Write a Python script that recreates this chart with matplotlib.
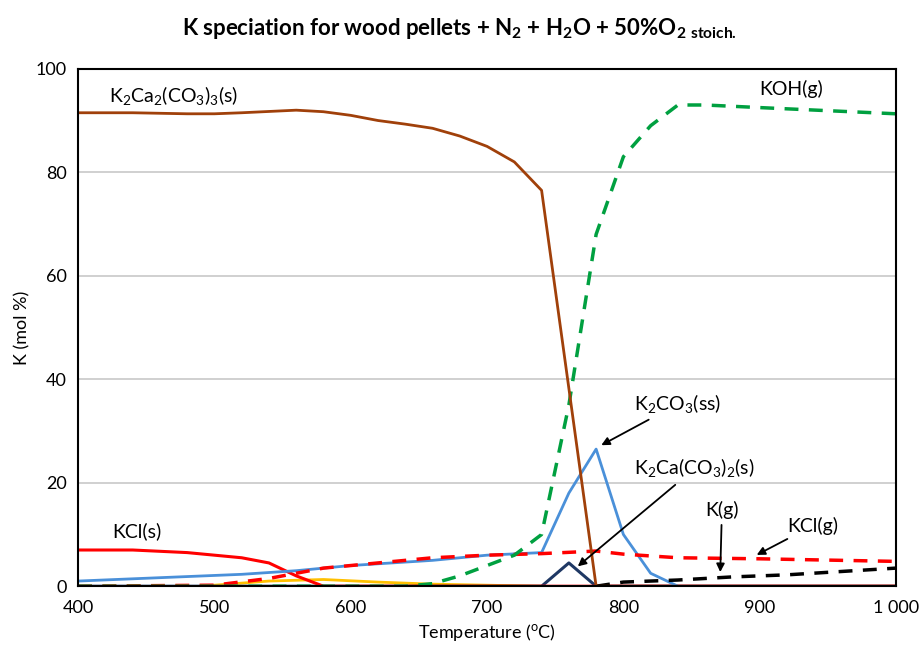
import matplotlib
matplotlib.use("Agg")
import matplotlib.pyplot as plt

plt.rcParams['font.family'] = ['Lato', 'DejaVu Sans']
plt.rcParams['mathtext.fontset'] = 'custom'
plt.rcParams['mathtext.rm'] = 'Lato'
plt.rcParams['mathtext.bf'] = 'Lato:bold'

t_k2ca2 = [400, 440, 480, 500, 520, 560, 580, 600, 620, 640, 660, 680, 700, 720, 740, 780, 1000]
k2ca2 = [91.5, 91.5, 91.3, 91.3, 91.5, 92, 91.7, 91, 90, 89.3, 88.5, 87, 85, 82, 76.5, 0, 0]
t_koh = [400, 640, 660, 680, 700, 720, 740, 760, 780, 800, 820, 840, 860, 900, 1000]
koh = [0, 0, 0.5, 2, 4, 6, 10, 35, 68, 83, 89, 93, 93, 92.5, 91.3]
t_k2co3 = [400, 520, 560, 600, 660, 700, 740, 760, 780, 800, 820, 840]
k2co3 = [1, 2.3, 3, 4, 5, 6, 6.5, 18, 26.5, 10, 2.5, 0]
t_kcls = [400, 440, 480, 520, 540, 560, 580, 1000]
kcls = [7, 7, 6.5, 5.5, 4.5, 2, 0, 0]
t_kclg = [400, 500, 540, 580, 620, 660, 700, 740, 780, 800, 840, 900, 1000]
kclg = [0, 0.2, 1.5, 3.5, 4.5, 5.5, 6, 6.3, 6.8, 6.2, 5.5, 5.3, 4.8]
t_kg = [780, 800, 840, 880, 920, 1000]
kg = [0, 0.8, 1.2, 1.8, 2.2, 3.5]
t_k2ca = [400, 740, 760, 780, 1000]
k2ca = [0, 0, 4.5, 0, 0]
t_orange = [500, 540, 580, 620, 660, 700, 740]
orange = [0.2, 1, 1.3, 0.8, 0.4, 0.2, 0]

fig, ax = plt.subplots(figsize=(9.19, 6.55), dpi=100)
fig.subplots_adjust(left=0.085, right=0.975, top=0.895, bottom=0.105)

ax.plot(t_orange, orange, color='#FFC000', lw=2)
ax.plot(t_k2ca, k2ca, color='#1F3864', lw=2.2)
ax.plot(t_kcls, kcls, color='#FF0000', lw=2.2)
ax.plot(t_k2co3, k2co3, color='#4A90D9', lw=2)
ax.plot(t_kclg, kclg, color='#FF0000', lw=2.5, ls=(0, (4, 3)))
ax.plot(t_kg, kg, color='black', lw=2.5, ls=(0, (4, 3)))
ax.plot(t_koh, koh, color='#00A040', lw=2.5, ls=(0, (4, 3)))
ax.plot(t_k2ca2, k2ca2, color='#A0400A', lw=2)

ax.set_xlim(400, 1000)
ax.set_ylim(0, 100)
ax.set_xticks([400, 500, 600, 700, 800, 900, 1000])
ax.set_xticklabels(['400', '500', '600', '700', '800', '900', '1 000'])
ax.set_yticks([0, 20, 40, 60, 80, 100])
ax.tick_params(labelsize=13, length=0)
ax.tick_params(axis='x', pad=10)
ax.tick_params(axis='y', pad=8)
ax.grid(axis='y', color='#C8C8C8', lw=1.2)
ax.set_axisbelow(True)
for s in ax.spines.values():
    s.set_linewidth(1.5)
ax.set_xlabel('Temperature ($^{\\mathrm{o}}$C)', fontsize=13)
ax.set_ylabel('K (mol %)', fontsize=13)
fig.suptitle('K speciation for wood pellets + N$_\\mathbf{2}$ + H$_\\mathbf{2}$O + 50%O$_\\mathbf{2\\ stoich.}$',
             fontsize=16, fontweight='bold', y=0.975)

fs = 14
ax.text(423, 93.5, 'K$_2$Ca$_2$(CO$_3$)$_3$(s)', fontsize=fs)
ax.text(900, 95, 'KOH(g)', fontsize=fs)
ax.text(425, 9.5, 'KCl(s)', fontsize=fs)
arr = dict(arrowstyle='-|>', color='black', lw=1.3, mutation_scale=12)
ax.annotate('K$_2$CO$_3$(ss)', xy=(782, 27), xytext=(808, 34), fontsize=fs, arrowprops=arr)
ax.annotate('K$_2$Ca(CO$_3$)$_2$(s)', xy=(765, 3.5), xytext=(808, 21.5), fontsize=fs, arrowprops=arr)
ax.annotate('K(g)', xy=(871, 2.2), xytext=(860, 13.5), fontsize=fs, arrowprops=arr, ha='left')
ax.annotate('KCl(g)', xy=(896, 5.8), xytext=(920, 10.5), fontsize=fs, arrowprops=arr)

fig.savefig('out.png', dpi=100)
